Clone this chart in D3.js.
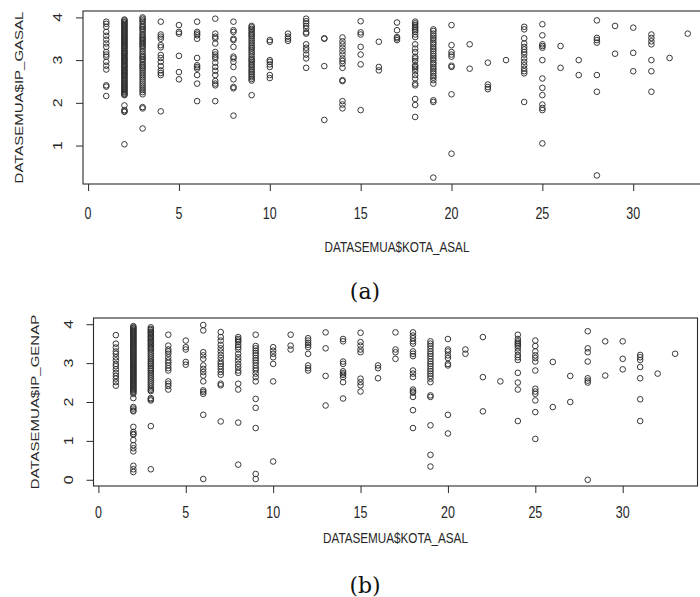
<!DOCTYPE html>
<html>
<head>
<meta charset="utf-8">
<script src="https://cdn.jsdelivr.net/npm/d3@7"></script>
<style>
  body { margin: 0; background: #fff; }
  svg text { font-family: "Liberation Sans", Arial, sans-serif; fill: #262626; }
  svg .caption { font-family: "DejaVu Serif", "Liberation Serif", serif; fill: #111; }
</style>
</head>
<body>
<div id="chart"></div>
<script>
// city codes (x) shared by both panels
const kota = [1, 2, 3, 4, 5, 6, 7, 8, 9, 10, 11, 12, 13, 14, 15, 16, 17,
              18, 19, 20, 21, 22, 23, 24, 25, 26, 27, 28, 29, 30, 31, 32, 33];

// IP_GASAL values per city
const ipGasal = [
  [3.90, 3.85, 3.78, 3.66, 3.57, 3.48, 3.39, 3.31, 3.19, 3.13, 3.08, 2.96, 2.87, 2.78, 2.41, 2.38, 2.16],
  [3.95, 3.93, 3.90, 3.88, 3.85, 3.83, 3.80, 3.78, 3.75, 3.72, 3.70, 3.67, 3.65, 3.62, 3.60, 3.57, 3.55,
   3.52, 3.50, 3.47, 3.45, 3.42, 3.40, 3.37, 3.35, 3.33, 3.30, 3.28, 3.25, 3.22, 3.20, 3.17, 3.15, 3.13,
   3.10, 3.07, 3.05, 3.02, 3.00, 2.98, 2.95, 2.92, 2.90, 2.87, 2.85, 2.83, 2.80, 2.77, 2.75, 2.72, 2.70,
   2.67, 2.65, 2.63, 2.60, 2.57, 2.55, 2.52, 2.50, 2.47, 2.45, 2.42, 2.40, 2.37, 2.35, 2.32, 2.30, 2.27,
   2.25, 2.22, 2.20, 2.18, 1.94, 1.83, 1.80, 1.79, 1.03],
  [4.00, 3.97, 3.93, 3.90, 3.85, 3.80, 3.77, 3.73, 3.70, 3.65, 3.60, 3.57, 3.53, 3.50, 3.47, 3.43, 3.40,
   3.37, 3.33, 3.30, 3.25, 3.20, 3.15, 3.10, 3.07, 3.03, 3.00, 2.95, 2.90, 2.87, 2.83, 2.80, 2.75, 2.70,
   2.65, 2.60, 2.55, 2.50, 2.45, 2.40, 2.35, 2.30, 2.25, 2.20, 1.90, 1.87, 1.40],
  [3.90, 3.60, 3.55, 3.50, 3.35, 3.30, 3.12, 3.05, 2.96, 2.86, 2.76, 2.70, 2.65, 1.80],
  [3.82, 3.66, 3.62, 3.10, 2.72, 2.55],
  [3.90, 3.66, 3.62, 3.58, 3.50, 3.05, 2.88, 2.84, 2.80, 2.65, 2.45, 2.04],
  [3.97, 3.62, 3.55, 3.51, 3.39, 3.19, 3.13, 3.08, 3.04, 2.94, 2.84, 2.75, 2.65, 2.51, 2.45, 2.41, 2.04],
  [3.90, 3.70, 3.66, 3.50, 3.47, 3.31, 3.08, 3.04, 2.96, 2.84, 2.55, 2.37, 2.34, 1.70],
  [3.80, 3.77, 3.73, 3.70, 3.65, 3.62, 3.58, 3.55, 3.50, 3.45, 3.40, 3.35, 3.30, 3.27, 3.22, 3.18, 3.13,
   3.08, 3.03, 3.00, 2.96, 2.92, 2.88, 2.85, 2.80, 2.76, 2.72, 2.68, 2.64, 2.60, 2.56, 2.52, 2.18],
  [3.47, 3.43, 3.00, 2.96, 2.90, 2.84, 2.65, 2.58],
  [3.62, 3.55, 3.50, 3.45],
  [3.97, 3.91, 3.86, 3.80, 3.74, 3.65, 3.62, 3.37, 3.29, 3.23, 3.13, 3.04, 2.82],
  [3.51, 3.50, 2.86, 1.60],
  [3.53, 3.44, 3.37, 3.29, 3.21, 3.13, 3.04, 2.98, 2.92, 2.82, 2.53, 2.51, 2.04, 1.96, 1.87],
  [3.91, 3.65, 3.60, 3.31, 3.13, 2.90, 1.83],
  [3.43, 2.84, 2.76],
  [3.88, 3.70, 3.54, 3.51, 3.47],
  [3.90, 3.86, 3.82, 3.78, 3.74, 3.70, 3.66, 3.60, 3.54, 3.37, 3.27, 3.19, 3.08, 3.04, 2.98, 2.88, 2.84,
   2.80, 2.74, 2.65, 2.57, 2.45, 2.41, 2.09, 1.95, 1.67],
  [3.72, 3.68, 3.62, 3.57, 3.52, 3.47, 3.41, 3.37, 3.31, 3.26, 3.21, 3.15, 3.10, 3.05, 3.00, 2.94, 2.90,
   2.84, 2.79, 2.74, 2.69, 2.63, 2.59, 2.53, 2.45, 2.06, 2.02, 0.25],
  [3.82, 3.35, 3.19, 3.13, 3.08, 2.87, 2.84, 2.20, 0.81],
  [3.37, 2.80],
  [2.94, 2.43, 2.37, 2.32],
  [3.00],
  [3.78, 3.72, 3.51, 3.39, 3.31, 3.25, 3.19, 3.13, 3.04, 2.96, 2.88, 2.80, 2.74, 2.69, 2.02],
  [3.84, 3.58, 3.37, 3.33, 3.29, 3.00, 2.57, 2.35, 2.18, 1.96, 1.88, 1.83, 1.05],
  [3.33, 2.82],
  [3.00, 2.65],
  [3.93, 3.52, 3.47, 3.41, 2.65, 2.26, 0.30],
  [3.80, 3.15],
  [3.76, 3.17, 2.74],
  [3.60, 3.52, 3.44, 3.37, 3.00, 2.74, 2.26],
  [3.05],
  [3.62]
];

// IP_GENAP values per city
const ipGenap = [
  [3.72, 3.50, 3.40, 3.30, 3.24, 3.15, 3.07, 2.98, 2.92, 2.84, 2.75, 2.67, 2.60, 2.51, 2.42],
  [3.95, 3.92, 3.90, 3.87, 3.85, 3.82, 3.80, 3.77, 3.75, 3.72, 3.70, 3.67, 3.65, 3.62, 3.60, 3.57, 3.55,
   3.52, 3.50, 3.47, 3.45, 3.42, 3.40, 3.37, 3.35, 3.32, 3.30, 3.27, 3.25, 3.22, 3.20, 3.17, 3.15, 3.12,
   3.10, 3.07, 3.05, 3.02, 3.00, 2.97, 2.95, 2.92, 2.90, 2.87, 2.85, 2.82, 2.80, 2.77, 2.75, 2.72, 2.70,
   2.67, 2.65, 2.62, 2.60, 2.57, 2.55, 2.52, 2.50, 2.47, 2.45, 2.42, 2.40, 2.37, 2.35, 2.32, 2.30, 2.27,
   2.25, 2.21, 2.10, 1.87, 1.83, 1.78, 1.76, 1.36, 1.23, 1.18, 1.16, 1.02, 0.89, 0.81, 0.73, 0.36, 0.27, 0.20],
  [3.92, 3.88, 3.85, 3.81, 3.78, 3.75, 3.71, 3.68, 3.65, 3.61, 3.58, 3.55, 3.51, 3.48, 3.45, 3.41, 3.38,
   3.35, 3.30, 3.25, 3.20, 3.15, 3.10, 3.05, 3.01, 2.97, 2.93, 2.88, 2.84, 2.80, 2.75, 2.70, 2.65, 2.60,
   2.55, 2.50, 2.45, 2.40, 2.35, 2.31, 2.28, 2.10, 2.07, 2.04, 1.38, 0.27],
  [3.73, 3.45, 3.35, 3.30, 3.24, 3.15, 3.07, 3.01, 2.94, 2.87, 2.81, 2.53, 2.47, 2.41, 2.32],
  [3.58, 3.41, 3.35, 3.03, 2.96],
  [3.98, 3.84, 3.28, 3.20, 3.11, 2.94, 2.85, 2.77, 2.68, 2.53, 2.30, 2.26, 2.21, 1.67, 0.02],
  [3.80, 3.67, 3.58, 3.47, 3.38, 3.30, 3.21, 3.13, 3.04, 2.98, 2.92, 2.85, 2.77, 2.70, 2.47, 2.43, 1.50],
  [3.67, 3.62, 3.58, 3.54, 3.47, 3.41, 3.35, 3.24, 3.15, 3.07, 2.98, 2.90, 2.81, 2.75, 2.47, 2.32, 1.47, 0.39],
  [3.73, 3.44, 3.38, 3.32, 3.26, 3.20, 3.13, 3.07, 3.01, 2.94, 2.87, 2.81, 2.73, 2.64, 2.53, 2.08, 1.85,
   1.33, 0.15, 0.02],
  [3.41, 3.32, 3.24, 3.15, 2.98, 2.53, 0.47],
  [3.73, 3.45, 3.35],
  [3.64, 3.58, 3.52, 3.47, 3.41, 3.24, 2.94, 2.87, 2.81],
  [3.79, 3.38, 2.67, 1.91],
  [3.62, 3.56, 3.04, 2.98, 2.79, 2.74, 2.70, 2.64, 2.51, 2.09],
  [3.78, 3.54, 3.45, 3.35, 3.28, 2.60, 2.51, 2.43, 2.27],
  [2.94, 2.87, 2.61],
  [3.79, 3.35, 3.28, 3.11],
  [3.79, 3.71, 3.64, 3.56, 3.50, 3.30, 3.24, 3.18, 2.81, 2.73, 2.64, 2.32, 2.27, 2.24, 2.13, 1.79, 1.33],
  [3.56, 3.50, 3.44, 3.37, 3.30, 3.24, 3.18, 3.11, 3.04, 2.98, 2.92, 2.85, 2.79, 2.73, 2.67, 2.60, 2.51,
   2.17, 2.13, 1.40, 0.64, 0.34],
  [3.62, 3.35, 3.30, 3.20, 3.13, 2.98, 2.94, 1.67, 1.19],
  [3.35, 3.24],
  [3.67, 2.64, 1.76],
  [2.53],
  [3.73, 3.62, 3.56, 3.52, 3.48, 3.44, 3.38, 3.30, 3.21, 3.15, 3.08, 2.75, 2.50, 2.32, 1.51],
  [3.58, 3.44, 3.30, 3.20, 3.13, 3.04, 2.81, 2.34, 2.27, 2.21, 2.04, 1.74, 1.05],
  [3.03, 1.87],
  [2.67, 2.00],
  [3.82, 3.38, 3.28, 3.04, 2.61, 2.55, 2.50, 0.00],
  [3.56, 2.68],
  [3.56, 3.11, 2.84],
  [3.21, 3.15, 3.08, 2.90, 2.61, 2.07, 1.51],
  [2.73],
  [3.24]
];

const xTicks = [0, 5, 10, 15, 20, 25, 30];
const yTicksGasal = [1, 2, 3, 4];
const yTicksGenap = [0, 1, 2, 3, 4];
const xTitle = "DATASEMUA$KOTA_ASAL";

// the source picture is squeezed sideways, so text is narrowed too
const SX = 0.78;
const ink = "#2b2b2b";

const svg = d3.select("#chart")
    .append("svg")
    .attr("width", 700)
    .attr("height", 597);

// horizontal text, squeezed
function hText(x, y, str, size) {
    return svg.append("text")
        .attr("transform", `translate(${x},${y}) scale(${SX},1)`)
        .attr("text-anchor", "middle")
        .attr("dy", "0.35em")
        .style("font-size", size + "px")
        .text(str);
}

// vertical text reading upwards, squeezed in glyph height
function vText(x, y, str, size) {
    return svg.append("text")
        .attr("transform", `translate(${x},${y}) rotate(-90) scale(1,${SX})`)
        .attr("text-anchor", "middle")
        .attr("dy", "0.35em")
        .style("font-size", size + "px")
        .text(str);
}

function drawPanel(p) {
    const x = d3.scaleLinear().domain([-0.28, 34.28]).range([p.left, p.right]);
    const y = d3.scaleLinear().domain(p.yDomain).range([p.bottom, p.top]);

    // points (open circles like R pch = 1)
    const pts = [];
    kota.forEach((k, i) => p.values[i].forEach(v => pts.push({ k, v })));
    svg.append("g")
        .selectAll("circle")
        .data(pts)
        .enter()
        .append("circle")
        .attr("cx", d => x(d.k))
        .attr("cy", d => y(d.v))
        .attr("r", 2.8)
        .style("fill", "none")
        .style("stroke", "#2e2e2e")
        .style("stroke-width", 0.95);

    // frame
    svg.append("rect")
        .attr("x", p.left)
        .attr("y", p.top)
        .attr("width", p.right - p.left)
        .attr("height", p.bottom - p.top)
        .style("fill", "none")
        .style("stroke", ink)
        .style("stroke-width", 1.1);

    // x axis ticks
    const xAxis = svg.append("g")
        .attr("transform", `translate(0,${p.bottom})`)
        .call(d3.axisBottom(x).tickValues(xTicks).tickSize(7).tickSizeOuter(0).tickFormat(""));
    xAxis.select(".domain").remove();
    xAxis.selectAll("line").attr("stroke", ink);
    xTicks.forEach(t => hText(x(t), p.xLabelY, String(t), 16));

    // y axis ticks
    const yAxis = svg.append("g")
        .attr("transform", `translate(${p.left},0)`)
        .call(d3.axisLeft(y).tickValues(p.yTicks).tickSize(7).tickSizeOuter(0).tickFormat(""));
    yAxis.select(".domain").remove();
    yAxis.selectAll("line").attr("stroke", ink);
    p.yTicks.forEach(t => vText(p.yLabelX, y(t), String(t), 16));

    // axis titles
    hText((p.left + p.right) / 2, p.xTitleY, xTitle, 15);
    vText(p.yTitleX, (p.top + p.bottom) / 2, p.yTitle, 15);

    // caption
    svg.append("text")
        .attr("class", "caption")
        .attr("x", p.captionX)
        .attr("y", p.captionY)
        .attr("text-anchor", "middle")
        .attr("dy", "0.35em")
        .style("font-size", "22px")
        .text(p.caption);
}

drawPanel({
    values: ipGasal, yDomain: [0.10, 4.15], yTicks: yTicksGasal,
    left: 83, right: 711, top: 11, bottom: 184,
    yLabelX: 58, yTitleX: 19, xLabelY: 213, xTitleY: 247,
    yTitle: "DATASEMUA$IP_GASAL", caption: "(a)", captionX: 365, captionY: 291
});

drawPanel({
    values: ipGenap, yDomain: [-0.16, 4.16], yTicks: yTicksGenap,
    left: 93.5, right: 697.5, top: 318, bottom: 486,
    yLabelX: 69, yTitleX: 35, xLabelY: 512, xTitleY: 538,
    yTitle: "DATASEMUA$IP_GENAP", caption: "(b)", captionX: 365, captionY: 585
});
</script>
</body>
</html>
